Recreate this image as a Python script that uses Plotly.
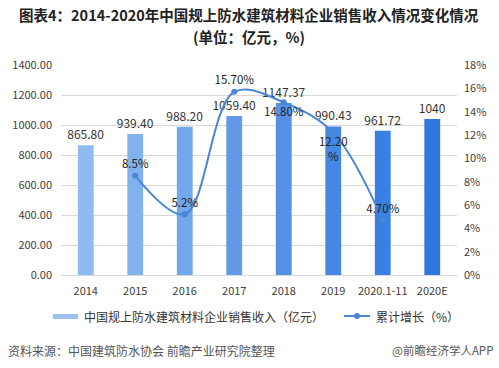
import plotly.graph_objects as go

categories = ["2014", "2015", "2016", "2017", "2018", "2019", "2020.1-11", "2020E"]
revenue = [865.80, 939.40, 988.20, 1059.40, 1147.37, 990.43, 961.72, 1040]
revenue_labels = ["865.80", "939.40", "988.20", "1059.40", "1147.37", "990.43", "961.72", "1040"]
growth_categories = ["2015", "2016", "2017", "2018", "2019", "2020.1-11"]
growth = [8.5, 5.2, 15.70, 14.80, 12.20, 4.70]
growth_labels = ["8.5%", "5.2%", "15.70%", "14.80%", "12.20<br>%", "4.70%"]
left_ticks = [0, 200, 400, 600, 800, 1000, 1200, 1400]
left_tick_labels = ["0.00", "200.00", "400.00", "600.00", "800.00", "1000.00", "1200.00", "1400.00"]
right_ticks = [0, 2, 4, 6, 8, 10, 12, 14, 16, 18]
right_tick_labels = ["0%", "2%", "4%", "6%", "8%", "10%", "12%", "14%", "16%", "18%"]
bar_name = "中国规上防水建筑材料企业销售收入（亿元）"
line_name = "累计增长（%）"
title_line1 = "图表4：2014-2020年中国规上防水建筑材料企业销售收入情况变化情况"
title_line2 = "(单位：亿元，%)"

bar_colors = ["#8fbcf0", "#82b2ee", "#72a7eb", "#6399e6", "#5690e6", "#4587e5", "#3a80e4", "#2f77df"]
label_pos = ["top center", "top center", "top center", "bottom center", "bottom center", "top center"]
LINE_COLOR = "#4a86d6"
FONT = "Noto Sans CJK SC"

# plot area in pixels: left 61, right 457, top 65, bottom 275
L, R, T, B = 61, 457, 65, 275
def px(x):
    return (x - L) / (R - L)
def py(y):
    return (B - y) / (B - T)

fig = go.Figure()
fig.add_trace(go.Bar(
    x=categories, y=revenue, name=bar_name, showlegend=False,
    marker=dict(color=bar_colors, line=dict(width=0)),
    text=revenue_labels, textposition="outside", cliponaxis=False, constraintext="none",
    textfont=dict(size=12, color="#333333", family=FONT),
))
fig.add_trace(go.Scatter(
    x=growth_categories, y=growth, yaxis="y2", name=line_name, showlegend=False,
    mode="lines+markers+text", line=dict(color=LINE_COLOR, width=2, shape="spline", smoothing=1),
    marker=dict(size=6, color=LINE_COLOR),
    text=growth_labels, textposition=label_pos, cliponaxis=False,
    textfont=dict(size=11.5, color="#222222", family=FONT),
))

shapes = [
    # legend swatches
    dict(type="rect", xref="paper", yref="paper", x0=px(53), x1=px(78), y0=py(319), y1=py(314),
         fillcolor="#9dc0f0", line=dict(width=0)),
    dict(type="line", xref="paper", yref="paper", x0=px(344), x1=px(370), y0=py(316), y1=py(316),
         line=dict(color=LINE_COLOR, width=2)),
    dict(type="circle", xref="paper", yref="paper", x0=px(354), x1=px(360), y0=py(319), y1=py(313),
         fillcolor=LINE_COLOR, line=dict(width=0)),
]

annotations = [
    dict(text="<b>" + title_line1 + "</b>",
         xref="paper", yref="paper", x=px(249), y=py(15), xanchor="center", yanchor="middle",
         showarrow=False, font=dict(size=14.5, color="#222222", family=FONT)),
    dict(text="<b>" + title_line2 + "</b>",
         xref="paper", yref="paper", x=px(249), y=py(36), xanchor="center", yanchor="middle",
         showarrow=False, font=dict(size=14.5, color="#222222", family=FONT)),
    dict(text=bar_name, xref="paper", yref="paper", x=px(82), y=py(316), xanchor="left", yanchor="middle",
         showarrow=False, font=dict(size=12, color="#333333", family=FONT)),
    dict(text=line_name, xref="paper", yref="paper", x=px(374), y=py(316), xanchor="left", yanchor="middle",
         showarrow=False, font=dict(size=12, color="#333333", family=FONT)),
    dict(text="资料来源：中国建筑防水协会 前瞻产业研究院整理", xref="paper", yref="paper",
         x=px(6), y=py(350), xanchor="left", yanchor="middle", showarrow=False,
         font=dict(size=12, color="#555555", family=FONT)),
    dict(text="@前瞻经济学人APP", xref="paper", yref="paper",
         x=px(495), y=py(350), xanchor="right", yanchor="middle", showarrow=False,
         font=dict(size=11.5, color="#555555", family=FONT)),
]

fig.update_layout(
    width=499, height=368,
    margin=dict(l=L, r=499 - R, t=T, b=368 - B, autoexpand=False),
    paper_bgcolor="white", plot_bgcolor="white",
    font=dict(family=FONT, size=11, color="#404040"),
    bargap=0.68,
    showlegend=False,
    xaxis=dict(
        categoryorder="array", categoryarray=categories, automargin=False,
        showgrid=False, showline=True, linecolor="#d9d9d9", linewidth=1,
        ticks="", tickfont=dict(size=11, color="#404040"), ticklabelstandoff=6,
    ),
    yaxis=dict(
        range=[0, 1400], tickvals=left_ticks, ticktext=left_tick_labels, automargin=False,
        showgrid=True, gridcolor="#d9d9d9", gridwidth=1, zeroline=False,
        showline=False, tickfont=dict(size=11, color="#404040"), ticklabelstandoff=8,
    ),
    yaxis2=dict(
        range=[0, 18], tickvals=right_ticks, ticktext=right_tick_labels, automargin=False,
        overlaying="y", side="right", showgrid=False, zeroline=False,
        showline=False, tickfont=dict(size=11, color="#404040"), ticklabelstandoff=6,
    ),
    shapes=shapes,
    annotations=annotations,
)

fig.write_html("out.html", config={"displayModeBar": False},
               post_script="document.body.style.margin='0';document.body.style.overflow='hidden';")
